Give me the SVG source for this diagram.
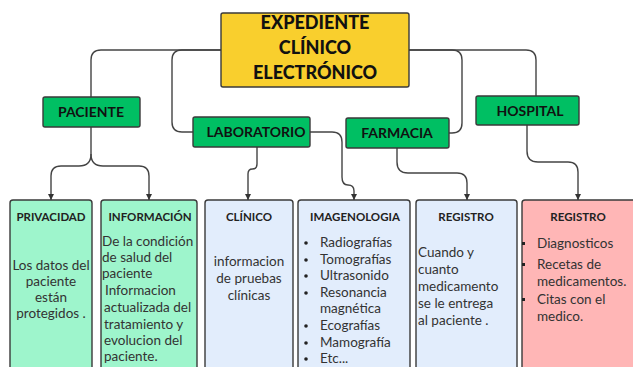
<svg xmlns="http://www.w3.org/2000/svg" width="633" height="367" viewBox="0 0 633 367">
<style>
.box{stroke:#3a3a3a;stroke-width:1.4}
.main{fill:#f9cf2d}
.grn{fill:#00bf63}
.mint{fill:#9ef5cc}
.blue{fill:#e2edfc}
.pink{fill:#ffb6b6}
.title{font-family:"Lato","Liberation Sans",sans-serif;font-weight:900;font-size:18px;fill:#111;text-anchor:middle}
.node{font-family:"Lato","Liberation Sans",sans-serif;font-weight:700;font-size:14px;fill:#111;text-anchor:middle}
.head{font-family:"Lato","Liberation Sans",sans-serif;font-weight:700;font-size:11.5px;fill:#222;text-anchor:middle}
.body{font-family:"Lato","Liberation Sans",sans-serif;font-size:13.5px;fill:#333}
.c{text-anchor:middle}
.conn path{fill:none;stroke:#444;stroke-width:1.4}
</style>
<defs>
<marker id="arr" viewBox="0 0 6 6" refX="6" refY="3" markerWidth="6" markerHeight="6" markerUnits="userSpaceOnUse" orient="auto">
<path d="M0,0 L6,3 L0,6 Z" fill="#333"/>
</marker>
</defs>
<rect width="633" height="367" fill="#ffffff"/>

<g class="conn" id="connectors">
<path d="M221,50 H101 Q91,50 91,60 V97"/>
<path d="M221,50 H182 Q172,50 172,60 V122 Q172,132 182,132 H193"/>
<path d="M409,50 H452 Q462,50 462,60 V123 Q462,133 452,133 H449"/>
<path d="M409,50 H526 Q536,50 536,60 V96"/>
<path d="M91,127 V154 Q91,166 79,166 H61 Q51,166 51,176 V200" marker-end="url(#arr)"/>
<path d="M91,154 Q91,166 103,166 H139 Q149,166 149,176 V200" marker-end="url(#arr)"/>
<path d="M257,147 V164 Q257,169 252.5,169 Q248,169 248,174 V200" marker-end="url(#arr)"/>
<path d="M310,132 H332 Q342,132 342,142 V177 Q342,185 348,185 Q354,185 354,191 V200" marker-end="url(#arr)"/>
<path d="M397,148 V162 Q397,173 408,173 H457 Q467,173 467,183 V200" marker-end="url(#arr)"/>
<path d="M527,125 V151 Q527,162 538,162 H568 Q578,162 578,172 V200" marker-end="url(#arr)"/>
</g>

<g id="expediente">
<rect class="box main" x="221" y="13" width="188" height="74" rx="2"/>
<text class="title" x="315" y="29">EXPEDIENTE</text>
<text class="title" x="315" y="54">CLÍNICO</text>
<text class="title" x="315" y="79">ELECTRÓNICO</text>
</g>

<g id="paciente">
<rect class="box grn" x="43" y="97" width="97" height="30" rx="2"/>
<text class="node" x="91" y="117">PACIENTE</text>
</g>
<g id="laboratorio">
<rect class="box grn" x="193" y="117" width="117" height="30" rx="2"/>
<text class="node" x="256" y="137">LABORATORIO</text>
</g>
<g id="farmacia">
<rect class="box grn" x="346" y="118" width="103" height="30" rx="2"/>
<text class="node" x="397" y="138">FARMACIA</text>
</g>
<g id="hospital">
<rect class="box grn" x="476" y="96" width="103" height="29" rx="2"/>
<text class="node" x="530" y="116">HOSPITAL</text>
</g>

<g id="privacidad">
<rect class="box mint" x="10" y="200" width="82" height="180" rx="3"/>
<text class="head" x="51" y="221">PRIVACIDAD</text>
<text class="body c" x="51" y="270">Los datos del</text>
<text class="body c" x="51" y="286">paciente</text>
<text class="body c" x="51" y="302">están</text>
<text class="body c" x="51" y="318">protegidos .</text>
</g>

<g id="informacion">
<rect class="box mint" x="101" y="200" width="96" height="180" rx="3"/>
<text class="head" x="150" y="221">INFORMACIÓN</text>
<text class="body" x="102" y="246">De la condición</text>
<text class="body" x="102" y="262">de salud del</text>
<text class="body" x="102" y="278">paciente</text>
<text class="body" x="105" y="295">Informacion</text>
<text class="body" x="104" y="312">actualizada del</text>
<text class="body" x="104" y="329">tratamiento y</text>
<text class="body" x="104" y="345">evolucion del</text>
<text class="body" x="104" y="361">paciente.</text>
</g>

<g id="clinico">
<rect class="box blue" x="205" y="200" width="88" height="180" rx="3"/>
<text class="head" x="249" y="221">CLÍNICO</text>
<text class="body c" x="249" y="266">informacion</text>
<text class="body c" x="249" y="283">de pruebas</text>
<text class="body c" x="249" y="300">clínicas</text>
</g>

<g id="imagenologia">
<rect class="box blue" x="298" y="200" width="112" height="180" rx="3"/>
<text class="head" x="355" y="221">IMAGENOLOGIA</text>
<g fill="#222">
<circle cx="306" cy="243" r="1.8"/>
<circle cx="306" cy="260" r="1.8"/>
<circle cx="306" cy="276" r="1.8"/>
<circle cx="306" cy="293" r="1.8"/>
<circle cx="306" cy="326" r="1.8"/>
<circle cx="306" cy="343" r="1.8"/>
<circle cx="306" cy="359" r="1.8"/>
</g>
<text class="body" x="320" y="247">Radiografías</text>
<text class="body" x="320" y="264">Tomografías</text>
<text class="body" x="320" y="280">Ultrasonido</text>
<text class="body" x="320" y="297">Resonancia</text>
<text class="body" x="320" y="313">magnética</text>
<text class="body" x="320" y="330">Ecografías</text>
<text class="body" x="320" y="347">Mamografía</text>
<text class="body" x="320" y="363">Etc...</text>
</g>

<g id="registro-farmacia">
<rect class="box blue" x="416" y="200" width="101" height="180" rx="3"/>
<text class="head" x="466" y="221">REGISTRO</text>
<text class="body" x="418" y="257">Cuando y</text>
<text class="body" x="418" y="274">cuanto</text>
<text class="body" x="418" y="291">medicamento</text>
<text class="body" x="418" y="308">se le entrega</text>
<text class="body" x="418" y="325">al paciente .</text>
</g>

<g id="registro-hospital">
<rect class="box pink" x="522" y="200" width="120" height="180" rx="3"/>
<text class="head" x="578" y="221">REGISTRO</text>
<g fill="#222">
<rect x="522" y="242" width="3" height="3"/>
<rect x="522" y="263" width="3" height="3"/>
<rect x="522" y="298" width="3" height="3"/>
</g>
<text class="body" x="537" y="248">Diagnosticos</text>
<text class="body" x="537" y="269">Recetas de</text>
<text class="body" x="537" y="286">medicamentos.</text>
<text class="body" x="537" y="304">Citas con el</text>
<text class="body" x="537" y="321">medico.</text>
</g>
</svg>
